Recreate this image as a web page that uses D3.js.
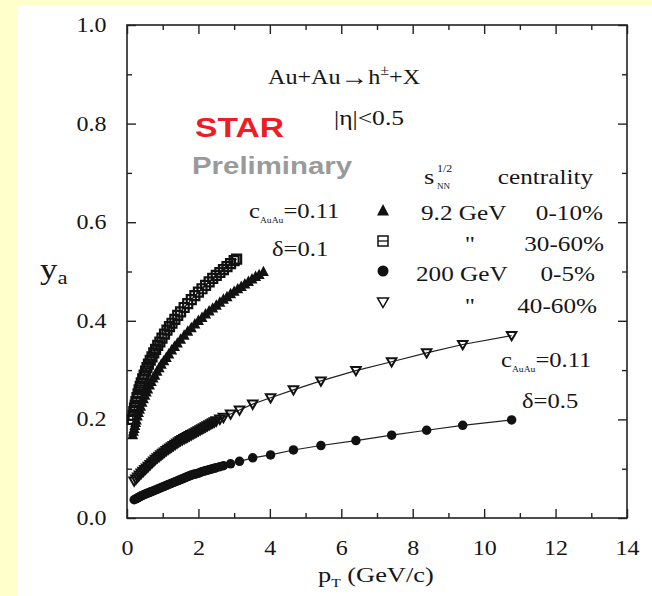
<!DOCTYPE html>
<html><head><meta charset="utf-8">
<script src="https://cdn.jsdelivr.net/npm/d3@7"></script>
<style>body{margin:0;background:#ffffcc;} svg{display:block}</style>
</head><body>
<svg id="c" width="652" height="596"></svg>
<script>
// ---------------- data ----------------
// 9.2 GeV, 0-10% (filled up-triangles)
const tri92Pt = [0.16,0.18,0.20,0.22,0.24,0.26,0.29,0.32,0.35,0.38,0.42,0.46,0.50,0.54,0.58,0.63,0.68,0.73,0.78,0.84,0.90,0.96,1.03,1.10,1.17,1.25,1.33,1.41,1.50,1.60,1.70,1.80,1.90,2.00,2.10,2.20,2.30,2.40,2.50,2.60,2.70,2.80,2.90,3.00,3.10,3.20,3.30,3.40,3.50,3.60,3.70,3.82];
const tri92Y  = [0.168,0.175,0.181,0.187,0.193,0.198,0.206,0.213,0.220,0.226,0.234,0.241,0.248,0.255,0.261,0.269,0.276,0.283,0.289,0.297,0.304,0.311,0.318,0.325,0.332,0.340,0.347,0.354,0.362,0.370,0.378,0.385,0.393,0.400,0.406,0.413,0.419,0.425,0.431,0.437,0.443,0.448,0.454,0.459,0.464,0.469,0.474,0.479,0.484,0.489,0.493,0.499];
// 9.2 GeV, 30-60% (open squares)
const sq92Pt = [0.15,0.17,0.19,0.21,0.23,0.25,0.28,0.31,0.34,0.37,0.40,0.44,0.48,0.52,0.56,0.60,0.65,0.70,0.75,0.80,0.86,0.92,0.98,1.05,1.12,1.19,1.26,1.34,1.42,1.50,1.60,1.70,1.80,1.90,2.00,2.10,2.20,2.30,2.40,2.50,2.60,2.70,2.80,2.90,3.00,3.07];
const sq92Y  = [0.200,0.208,0.216,0.223,0.229,0.236,0.244,0.252,0.260,0.267,0.274,0.282,0.290,0.298,0.305,0.312,0.320,0.327,0.335,0.342,0.350,0.357,0.365,0.373,0.381,0.388,0.395,0.403,0.411,0.418,0.427,0.435,0.443,0.451,0.458,0.465,0.472,0.479,0.486,0.492,0.498,0.504,0.510,0.516,0.522,0.525];
// 200 GeV, 0-5% (filled circles)
const circ200Pt = [0.20,0.25,0.30,0.35,0.40,0.45,0.50,0.55,0.60,0.65,0.70,0.75,0.80,0.85,0.90,0.95,1.00,1.05,1.10,1.15,1.20,1.25,1.30,1.35,1.40,1.45,1.50,1.55,1.60,1.65,1.70,1.75,1.80,1.85,1.90,1.95,2.00,2.05,2.10,2.15,2.20,2.25,2.30,2.35,2.40,2.45,2.50,2.60,2.70,2.90,3.15,3.52,4.02,4.66,5.43,6.41,7.41,8.39,9.40,10.77];
const circ200Y  = [0.037,0.039,0.041,0.043,0.045,0.0465,0.048,0.0495,0.051,0.0525,0.054,0.0555,0.057,0.0585,0.060,0.0615,0.063,0.0645,0.066,0.0675,0.069,0.0705,0.072,0.0735,0.075,0.0765,0.078,0.0795,0.081,0.0825,0.084,0.0855,0.087,0.088,0.089,0.090,0.091,0.0925,0.094,0.095,0.096,0.097,0.098,0.099,0.100,0.101,0.102,0.104,0.106,0.110,0.115,0.122,0.128,0.138,0.147,0.157,0.168,0.178,0.188,0.199];
// 200 GeV, 40-60% (open down-triangles)
const dtri200Pt = [0.20,0.25,0.30,0.35,0.40,0.45,0.50,0.55,0.60,0.65,0.70,0.75,0.80,0.85,0.90,0.95,1.00,1.05,1.10,1.15,1.20,1.25,1.30,1.35,1.40,1.45,1.50,1.55,1.60,1.65,1.70,1.75,1.80,1.85,1.90,1.95,2.00,2.05,2.10,2.15,2.20,2.25,2.30,2.35,2.40,2.45,2.50,2.60,2.70,2.90,3.15,3.52,4.02,4.66,5.43,6.41,7.41,8.39,9.40,10.77];
const dtri200Y  = [0.075,0.079,0.083,0.087,0.091,0.0945,0.098,0.1015,0.105,0.1085,0.112,0.1155,0.119,0.122,0.125,0.128,0.131,0.134,0.137,0.1395,0.142,0.1445,0.147,0.1495,0.152,0.1545,0.157,0.159,0.161,0.163,0.165,0.167,0.169,0.171,0.173,0.175,0.177,0.179,0.181,0.183,0.185,0.187,0.189,0.191,0.193,0.195,0.197,0.2005,0.204,0.211,0.219,0.231,0.244,0.260,0.278,0.299,0.317,0.335,0.352,0.370];

const xMajor = [0,2,4,6,8,10,12,14];
const xMinor = [1,3,5,7,9,11,13];
const yMajor = [0,0.2,0.4,0.6,0.8,1.0];
const yMinor = [0.1,0.3,0.5,0.7,0.9];

const legendEnergy = ["9.2 GeV", "\"", "200 GeV", "\""];
const legendCent   = ["0-10%", "30-60%", "0-5%", "40-60%"];

// ---------------- drawing ----------------
const SERIF = "'Liberation Serif','Times New Roman',serif";
const SANS = "'Liberation Sans',Arial,sans-serif";
const SX = 1.2; // horizontal stretch of the original picture
const INK = "#161616";

const svg = d3.select("#c");
svg.append("rect").attr("x",17).attr("y",5).attr("width",635).attr("height",591).attr("fill","#fff");

const L = 127, R = 627, T = 25, B = 518;
const x = d3.scaleLinear().domain([0,14]).range([L,R]);
const y = d3.scaleLinear().domain([0,1]).range([B,T]);

function styleAxis(g){
  g.select(".domain").remove();
  g.selectAll("line").attr("stroke","#222").attr("stroke-width",1.4);
}
// bottom
svg.append("g").attr("transform",`translate(0,${B})`)
  .call(d3.axisBottom(x).tickValues(xMajor).tickSize(-9).tickPadding(23).tickFormat(d3.format("d")))
  .call(styleAxis)
  .call(g=>g.selectAll("text").attr("font-family",SERIF).attr("font-size",20).attr("fill",INK).attr("transform",`scale(${SX},1)`));
svg.append("g").attr("transform",`translate(0,${B})`)
  .call(d3.axisBottom(x).tickValues(xMinor).tickSize(-5).tickFormat("")).call(styleAxis);
// top
svg.append("g").attr("transform",`translate(0,${T})`)
  .call(d3.axisTop(x).tickValues(xMajor).tickSize(-9).tickFormat("")).call(styleAxis);
svg.append("g").attr("transform",`translate(0,${T})`)
  .call(d3.axisTop(x).tickValues(xMinor).tickSize(-5).tickFormat("")).call(styleAxis);
// left
svg.append("g").attr("transform",`translate(${L},0)`)
  .call(d3.axisLeft(y).tickValues(yMajor).tickSize(-9).tickPadding(17).tickFormat(d3.format(".1f")))
  .call(styleAxis)
  .call(g=>g.selectAll("text").attr("font-family",SERIF).attr("font-size",20).attr("fill",INK).attr("transform",`scale(${SX},1)`));
svg.append("g").attr("transform",`translate(${L},0)`)
  .call(d3.axisLeft(y).tickValues(yMinor).tickSize(-5).tickFormat("")).call(styleAxis);
// right
svg.append("g").attr("transform",`translate(${R},0)`)
  .call(d3.axisRight(y).tickValues(yMajor).tickSize(-9).tickFormat("")).call(styleAxis);
svg.append("g").attr("transform",`translate(${R},0)`)
  .call(d3.axisRight(y).tickValues(yMinor).tickSize(-5).tickFormat("")).call(styleAxis);

// frame
svg.append("rect").attr("x",L).attr("y",T).attr("width",R-L).attr("height",B-T)
  .attr("fill","none").attr("stroke","#222").attr("stroke-width",1.6);

// markers
function markerPath(type, s){
  const h = s*0.5;
  if(type==="tri") return `M0,${-h*1.15}L${h},${h*0.75}L${-h},${h*0.75}Z`;
  if(type==="dtri") return `M0,${h*1.0}L${h},${-h*0.75}L${-h},${-h*0.75}Z`;
  if(type==="sq") return `M${-h},${-h}H${h}V${h}H${-h}Z`;
  return null;
}
function drawMarker(g, type, cx, cy, s, sw, fill){
  if(type==="circ"){
    g.append("circle").attr("cx",cx).attr("cy",cy).attr("r",s/2).attr("fill","#111");
  } else {
    const p = g.append("path").attr("d",markerPath(type,s)).attr("transform",`translate(${cx},${cy})`);
    if(type==="tri") p.attr("fill","#111");
    else p.attr("fill", fill ?? "#fff").attr("stroke","#111").attr("stroke-width",sw ?? 1.4);
  }
}

const series = [
  {pt: dtri200Pt, ya: dtri200Y, type:"dtri", s:9.5, sw:2, fill:"none"},
  {pt: circ200Pt, ya: circ200Y, type:"circ", s:9.5},
  {pt: tri92Pt, ya: tri92Y, type:"tri", s:11},
  {pt: sq92Pt, ya: sq92Y, type:"sq", s:9, sw:2.2, fill:"none"}
];
const line = d3.line().x(d=>x(d[0])).y(d=>y(d[1]));
series.forEach(sr=>{
  const pts = sr.pt.map((p,i)=>[p, sr.ya[i]]);
  svg.append("path").datum(pts).attr("d",line).attr("fill","none").attr("stroke","#222").attr("stroke-width",1.2);
  const g = svg.append("g");
  pts.forEach(d=>drawMarker(g, sr.type, x(d[0]), y(d[1]), sr.s, sr.sw, sr.fill));
});

// text helper: parts = strings or {t, fs, dy}
function label(x0, y0, parts, o={}){
  const t = svg.append("text")
    .attr("transform",`translate(${x0},${y0}) scale(${o.sx ?? SX},1)`)
    .attr("font-family", o.ff ?? SERIF)
    .attr("font-size", o.fs ?? 20)
    .attr("font-weight", o.fw ?? "normal")
    .attr("fill", o.fill ?? INK)
    .attr("text-anchor", o.anchor ?? "start");
  let cur = 0;
  parts.forEach(p=>{
    if(typeof p === "string"){
      t.append("tspan").attr("dy", -cur).text(p); cur = 0;
    } else {
      t.append("tspan").attr("font-size", p.fs).attr("dy", p.dy - cur).text(p.t); cur = p.dy;
    }
  });
  return t;
}

label(268, 84, ["Au+Au", {t:"\u2192", fs:24, dy:1}, "h", {t:"\u00b1", fs:14, dy:-9}, "+X"], {fs:21, sx:1.15});
label(334, 125, ["|\u03b7|<0.5"], {fs:21, sx:1.22});
label(195, 137, ["STAR"], {ff:SANS, fw:"bold", fs:28, fill:"#ee1c25"});
label(192, 174, ["Preliminary"], {ff:SANS, fw:"bold", fs:24.5, fill:"#9a9a9a"});

// legend header
label(424, 184, ["s"], {fs:22});
label(437, 172, ["1/2"], {fs:10});
label(437, 189, ["NN"], {fs:7.5});
label(593, 184, ["centrality"], {fs:21, anchor:"end"});

const legTypes = ["tri","sq","circ","dtri"];
const legY = [211, 241, 271, 302];
const legSize = [12, 10, 11, 11];
legTypes.forEach((tp,i)=>{
  drawMarker(svg, tp, 383, legY[i], legSize[i], 1.5, tp==="sq" ? "none" : "#fff");
  if(tp==="sq") svg.append("line").attr("x1",378).attr("x2",388).attr("y1",legY[i]).attr("y2",legY[i]).attr("stroke","#111").attr("stroke-width",1.3);
});
const baseY = [220, 251, 281, 313];
const energyX = [421, 470, 416, 470];
legendEnergy.forEach((e,i)=>{
  label(energyX[i], baseY[i], [e], {fs:21, anchor: e==="\"" ? "middle" : "start"});
});
const centX = [603, 604, 595, 597];
legendCent.forEach((c,i)=> label(centX[i], baseY[i], [c], {fs:21, anchor:"end"}));

// model parameters
label(249, 218, ["c", {t:"AuAu", fs:8, dy:5}, "=0.11"], {fs:20.5});
label(272, 256, ["\u03b4=0.1"], {fs:20.5});
label(501, 367, ["c", {t:"AuAu", fs:8, dy:5}, "=0.11"], {fs:20.5});
label(522, 408, ["\u03b4=0.5"], {fs:20.5});

// axis titles
label(40, 279, ["y", {t:"a", fs:19, dy:5}], {fs:29});
label(318, 582, ["p", {t:"T", fs:13, dy:5}, " (GeV/c)"], {fs:22});
</script>
</body></html>
